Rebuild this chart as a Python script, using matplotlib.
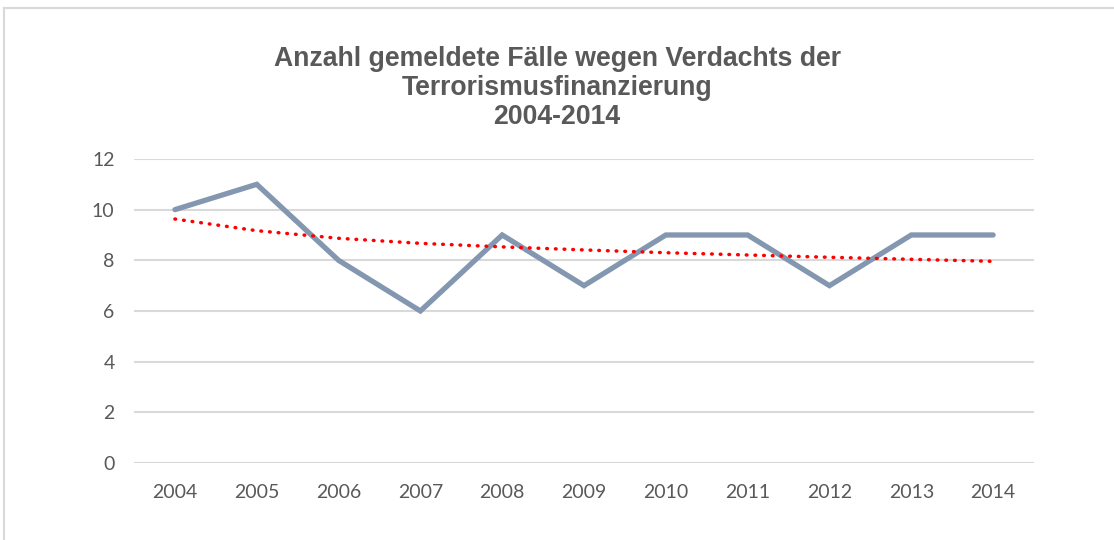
import matplotlib.pyplot as plt
from matplotlib.lines import Line2D

jahre = ['2004', '2005', '2006', '2007', '2008', '2009', '2010', '2011', '2012', '2013', '2014']
faelle = [10, 11, 8, 6, 9, 7, 9, 9, 7, 9, 9]
# Trendlinie (logarithmisch)
trend = [9.63, 9.17, 8.87, 8.67, 8.53, 8.41, 8.30, 8.21, 8.12, 8.04, 7.96]
y_ticks = [0, 2, 4, 6, 8, 10, 12]

fig = plt.figure(figsize=(11.14, 5.4), dpi=100)
ax = fig.add_axes([0.1203, 0.1426, 0.8079, 0.5630])

x = range(len(jahre))
ax.plot(x, faelle, color='#8497B0', linewidth=3.8, solid_capstyle='round', solid_joinstyle='miter', zorder=3)
ax.plot(x, trend, color='#FF0000', linewidth=2.5, linestyle=(0, (0.2, 2.3)), dash_capstyle='round', zorder=4)

ax.set_xlim(-0.5, len(jahre) - 0.5)
ax.set_ylim(0, 12)
ax.set_yticks(y_ticks)
ax.set_xticks(list(x))
ax.set_xticklabels(jahre)
ax.yaxis.grid(True, color='#D9D9D9', linewidth=1.5)
ax.set_axisbelow(True)
for s in ax.spines.values():
    s.set_visible(False)
ax.tick_params(length=0, labelsize=14, labelcolor='#595959', pad=14)
ax.tick_params(axis='x', pad=15)
for lbl in ax.get_xticklabels() + ax.get_yticklabels():
    lbl.set_family('Lato')

fig.text(0.5, 0.837, 'Anzahl gemeldete Fälle wegen Verdachts der\nTerrorismusfinanzierung\n2004-2014',
         ha='center', va='center', fontsize=19.2, fontweight='bold', color='#595959',
         family='Liberation Sans', linespacing=1.17)

# Rahmen oben und links
fig.add_artist(Line2D([0.0035, 0.0035], [0, 0.985], transform=fig.transFigure, color='#D9D9D9', linewidth=1.5))
fig.add_artist(Line2D([0.0035, 1], [0.985, 0.985], transform=fig.transFigure, color='#D9D9D9', linewidth=1.5))

fig.savefig('out.png', dpi=100)
